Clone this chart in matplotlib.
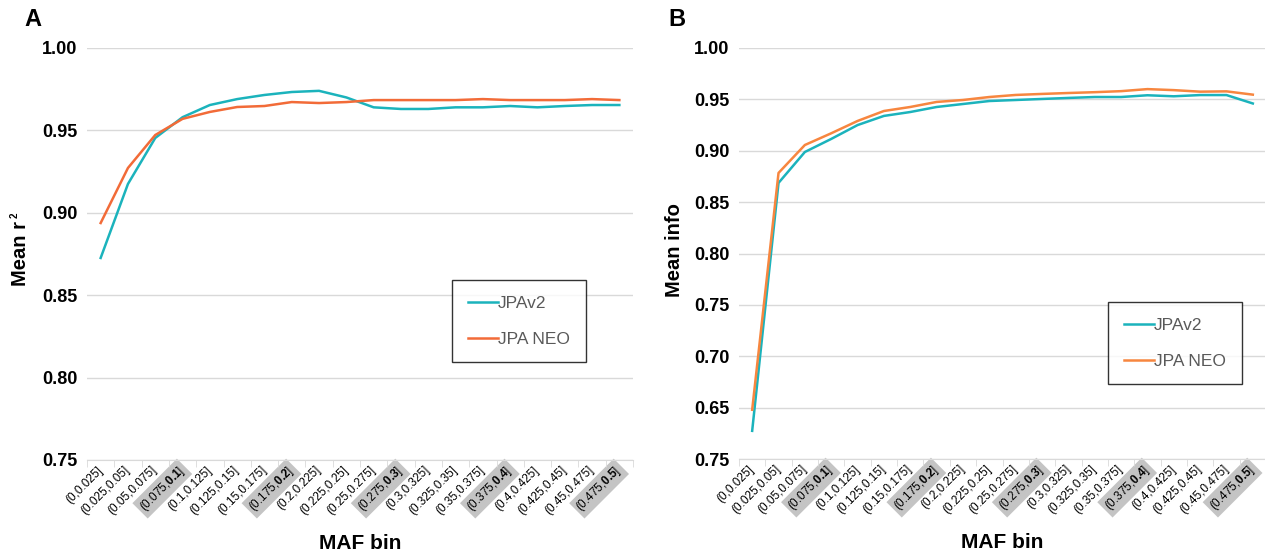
import matplotlib
matplotlib.use("Agg")
import matplotlib.pyplot as plt

plt.rcParams['font.family'] = ['Liberation Sans', 'DejaVu Sans']
plt.rcParams['mathtext.fontset'] = 'custom'
plt.rcParams['mathtext.rm'] = 'Liberation Sans'
plt.rcParams['mathtext.bf'] = 'Liberation Sans:bold'

bins = ["(0,0.025]", "(0.025,0.05]", "(0.05,0.075]", "(0.075,0.1]", "(0.1,0.125]",
        "(0.125,0.15]", "(0.15,0.175]", "(0.175,0.2]", "(0.2,0.225]", "(0.225,0.25]",
        "(0.25,0.275]", "(0.275,0.3]", "(0.3,0.325]", "(0.325,0.35]", "(0.35,0.375]",
        "(0.375,0.4]", "(0.4,0.425]", "(0.425,0.45]", "(0.45,0.475]", "(0.475,0.5]"]
highlight = [3, 7, 11, 15, 19]

r2_jpav2 = [0.8726, 0.9175, 0.9454, 0.958, 0.9654, 0.969, 0.9715, 0.9733, 0.974, 0.970,
            0.964, 0.963, 0.963, 0.964, 0.964, 0.9648, 0.964, 0.9648, 0.9654, 0.9654]
r2_neo = [0.8938, 0.9272, 0.9472, 0.957, 0.9612, 0.9642, 0.9648, 0.9672, 0.9666, 0.9672,
          0.9684, 0.9684, 0.9684, 0.9684, 0.969, 0.9684, 0.9684, 0.9684, 0.969, 0.9684]
info_jpav2 = [0.6274, 0.8687, 0.8988, 0.9115, 0.925, 0.9339, 0.9377, 0.9426, 0.9455, 0.9484,
              0.9494, 0.9504, 0.9514, 0.9523, 0.9523, 0.9540, 0.9530, 0.9542, 0.9542, 0.946]
info_neo = [0.6479, 0.8784, 0.9056, 0.917, 0.929, 0.9387, 0.9426, 0.9475, 0.9494, 0.9523,
            0.9543, 0.9553, 0.9562, 0.957, 0.958, 0.960, 0.959, 0.9575, 0.9578, 0.9546]

yticks_a = [0.75, 0.80, 0.85, 0.90, 0.95, 1.00]
yticks_b = [0.60, 0.65, 0.70, 0.75, 0.80, 0.85, 0.90, 0.95, 1.00]
yticklabels_b = ["0.75", "0.65", "0.70", "0.75", "0.80", "0.85", "0.90", "0.95", "1.00"]

teal = '#1BB3BC'
orange_a = '#F26B38'
orange_b = '#F7863F'

W, H = 1265, 558
fig = plt.figure(figsize=(W / 100, H / 100), dpi=100)
A_box = (87, 48, 633, 460)
B_box = (739, 48, 1266, 459)


def axes_from(box):
    l, t, r, b = box
    return fig.add_axes([l / W, 1 - b / H, (r - l) / W, (b - t) / H])


axA = axes_from(A_box)
axB = axes_from(B_box)


def fmt_label(s, i):
    if i in highlight:
        a, b = s[1:-1].split(',')
        return '(' + a + ',' + r'$\mathbf{' + b + '}$' + ']'
    return s


def style(ax, box, yticks, ylabels, ylim, legend_topleft):
    x = list(range(len(bins)))
    ax.set_xlim(-0.5, len(bins) - 0.5)
    ax.set_ylim(*ylim)
    ax.set_yticks(yticks)
    ax.set_yticklabels(ylabels, fontsize=13, fontweight='bold')
    ax.tick_params(axis='y', length=0, pad=7)
    ax.grid(axis='y', color='#d9d9d9', linewidth=1)
    ax.set_axisbelow(True)
    for s in ['top', 'right', 'left']:
        ax.spines[s].set_visible(False)
    ax.spines['bottom'].set_color('#d9d9d9')
    ax.set_xticks(x)
    ax.set_xticklabels([fmt_label(b, i) for i, b in enumerate(bins)], rotation=45,
                       ha='right', va='center', rotation_mode='anchor', fontsize=8.5)
    ax.tick_params(axis='x', length=0, pad=6)
    ax.set_xticks([i - 0.5 for i in range(len(bins) + 1)], minor=True)
    ax.tick_params(axis='x', which='minor', length=5, color='#d9d9d9')
    for i, lab in enumerate(ax.get_xticklabels()):
        if i in highlight:
            lab.set_bbox(dict(facecolor='#c4c4c4', edgecolor='none', pad=2))
    ax.set_xlabel('MAF bin', fontsize=15, fontweight='bold', labelpad=12)
    l, t, r, b = box
    lx, ly = legend_topleft
    leg = ax.legend(loc='upper left', bbox_to_anchor=((lx - l) / (r - l), (b - ly) / (b - t)),
                    frameon=True, fancybox=False, fontsize=12.5, labelspacing=1.2,
                    handlelength=1.75, handletextpad=0.0, borderpad=0.9, borderaxespad=0)
    leg.get_frame().set_edgecolor('black')
    leg.get_frame().set_linewidth(1)
    for t in leg.get_texts():
        t.set_color('#595959')


x = list(range(len(bins)))
axA.plot(x, r2_jpav2, color=teal, lw=1.8, label='JPAv2')
axA.plot(x, r2_neo, color=orange_a, lw=1.8, label='JPA NEO')
style(axA, A_box, yticks_a, ["%.2f" % v for v in yticks_a], (0.75, 1.00), (452, 280))

axB.plot(x, info_jpav2, color=teal, lw=1.8, label='JPAv2')
axB.plot(x, info_neo, color=orange_b, lw=1.8, label='JPA NEO')
style(axB, B_box, yticks_b, yticklabels_b, (0.60, 1.00), (1108, 302))

fig.text(21 / W, 1 - 254 / H, 'Mean r', fontsize=14.5, fontweight='bold',
         rotation=90, ha='center', va='center')
fig.text(15 / W, 1 - 215 / H, '2', fontsize=7, fontweight='bold',
         rotation=90, ha='center', va='center')
fig.text(675 / W, 1 - 250 / H, 'Mean info', fontsize=14.5, fontweight='bold',
         rotation=90, ha='center', va='center')

fig.text(33 / W, 1 - 20 / H, 'A', fontsize=17, fontweight='bold', ha='center', va='center')
fig.text(677 / W, 1 - 20 / H, 'B', fontsize=17, fontweight='bold', ha='center', va='center')

fig.savefig('out.png', dpi=100)
